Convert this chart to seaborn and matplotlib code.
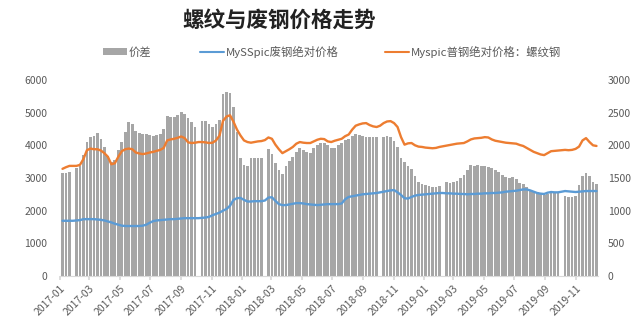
import numpy as np
import pandas as pd
import matplotlib
matplotlib.use("Agg")
import matplotlib.pyplot as plt
import matplotlib.dates as mdates
import seaborn as sns
from matplotlib.patches import Patch
from matplotlib.lines import Line2D

sns.set_theme(style="white")
plt.rcParams["font.family"] = ["Noto Sans CJK SC", "DejaVu Sans"]
plt.rcParams["axes.unicode_minus"] = False

# ---------------- data (weekly) ----------------
weeks = pd.date_range("2017-01-06", periods=154, freq="7D")

rebar = [3280, 3330, 3370, 3370, 3370, 3400, 3580, 3850, 3900, 3880,
         3880, 3840, 3760, 3650, 3420, 3450, 3650, 3820, 3880, 3900,
         3880, 3780, 3750, 3730, 3750, 3780, 3800, 3830, 3860, 3920,
         4150, 4180, 4200, 4230, 4270, 4220, 4090, 4070, 4080, 4100,
         4100, 4090, 4070, 4080, 4150, 4300, 4750, 4880, 4920, 4720,
         4480, 4300, 4150, 4100, 4080, 4100, 4120, 4130, 4160, 4240,
         4200, 4020, 3880, 3760, 3820, 3880, 3950, 4050, 4100, 4080,
         4070, 4070, 4120, 4170, 4200, 4190, 4120, 4100, 4140, 4170,
         4200, 4280, 4330, 4480, 4600, 4640, 4670, 4680, 4620, 4580,
         4560, 4600, 4680, 4730, 4740, 4680, 4560, 4250, 4020, 4060,
         4070, 4000, 3960, 3950, 3930, 3920, 3910, 3920, 3950, 3970,
         3990, 4010, 4030, 4050, 4060, 4070, 4120, 4180, 4210, 4220,
         4230, 4250, 4240, 4180, 4140, 4120, 4100, 4080, 4070, 4060,
         4050, 4010, 3980, 3920, 3860, 3800, 3760, 3720, 3700, 3760,
         3820, 3830, 3840, 3850, 3860, 3850, 3860, 3890, 3960, 4150,
         4220, 4100, 4000, 3980]

scrap = [1690, 1690, 1690, 1690, 1700, 1710, 1740, 1740, 1740, 1740,
         1730, 1720, 1700, 1670, 1640, 1600, 1570, 1540, 1530, 1530,
         1530, 1530, 1530, 1540, 1570, 1630, 1680, 1700, 1710, 1720,
         1730, 1740, 1740, 1750, 1760, 1770, 1770, 1770, 1770, 1770,
         1780, 1790, 1810, 1860, 1900, 1940, 2000, 2050, 2150, 2330,
         2380, 2390, 2330, 2280, 2280, 2290, 2290, 2290, 2310, 2400,
         2410, 2300, 2200, 2170, 2170, 2190, 2210, 2230, 2230, 2220,
         2200, 2190, 2180, 2170, 2180, 2190, 2200, 2200, 2200, 2200,
         2220, 2350, 2420, 2440, 2460, 2480, 2500, 2510, 2520, 2530,
         2540, 2560, 2580, 2600, 2620, 2630, 2560, 2480, 2380, 2370,
         2420, 2460, 2480, 2490, 2500, 2510, 2520, 2530, 2540, 2540,
         2530, 2530, 2520, 2520, 2510, 2510, 2500, 2510, 2510, 2520,
         2520, 2530, 2530, 2540, 2540, 2550, 2560, 2580, 2590, 2600,
         2610, 2630, 2650, 2650, 2620, 2580, 2540, 2520, 2510, 2550,
         2570, 2560, 2560, 2580, 2600, 2590, 2580, 2570, 2580, 2590,
         2600, 2600, 2600, 2600]

nan = np.nan
spread = [1580, 1570, 1590, nan, 1660, 1680, 1850, 2050, 2130, 2150,
          2190, 2100, 1980, 1840, 1740, 1780, 1930, 2050, 2200, 2360,
          2330, 2220, 2190, 2170, 2170, 2160, 2150, 2160, 2180, 2250,
          2450, 2440, 2430, 2470, 2510, 2480, 2420, 2350, 2280, nan,
          2370, 2370, 2320, 2280, 2330, 2380, 2780, 2820, 2800, 2590,
          2200, 1800, 1700, 1680, 1800, 1810, 1800, 1800, nan, 1950,
          1860, 1730, 1620, 1560, 1680, 1760, 1820, 1900, 1960, 1930,
          1900, 1880, 1960, 2000, 2030, 2040, 2000, 1960, 1960, 2000,
          2040, 2080, 2100, 2140, 2170, 2160, 2140, 2130, 2130, 2120,
          2130, nan, 2130, 2140, 2130, 2070, 1980, 1800, 1750, 1680,
          1640, 1530, 1440, 1410, 1390, 1380, 1360, 1360, 1370, nan,
          1440, 1430, 1440, 1460, 1500, 1540, 1620, 1700, 1690, 1700,
          1690, 1680, 1670, 1650, 1620, 1590, 1550, 1520, 1500, 1520,
          1480, 1430, 1410, 1360, 1320, 1300, 1290, 1250, 1240, 1260,
          1270, 1270, 1270, nan, 1230, 1210, 1210, 1220, 1400, 1530,
          1580, 1530, 1440, 1410]

tick_labels = ["2017-01", "2017-03", "2017-05", "2017-07", "2017-09", "2017-11",
               "2018-01", "2018-03", "2018-05", "2018-07", "2018-09", "2018-11",
               "2019-01", "2019-03", "2019-05", "2019-07", "2019-09", "2019-11"]

series_names = ["价差", "MySSpic废钢绝对价格", "Myspic普钢绝对价格：螺纹钢"]

GRAY = "#A6A6A6"
BLUE = "#5B9BD5"
ORANGE = "#ED7D31"
TXT = "#595959"

df = pd.DataFrame({"x": mdates.date2num(weeks), "rebar": rebar,
                   "scrap": scrap, "spread": spread})
bars = df.dropna(subset=["spread"])

fig = plt.figure(figsize=(6.43, 3.36), dpi=100)
ax = fig.add_axes([0.0933, 0.1786, 0.8367, 0.5834])

sns.barplot(data=bars, x="x", y="spread", native_scale=True, color=GRAY,
            saturation=1, width=0.78, errorbar=None, linewidth=0, ax=ax)

ax2 = ax.twinx()
sns.lineplot(data=df, x="x", y="rebar", color=ORANGE, lw=1.7, ax=ax2)
sns.lineplot(data=df, x="x", y="scrap", color=BLUE, lw=1.7, ax=ax2)

# axes arrangement: bars on right scale, lines on left scale
ax.yaxis.tick_right()
ax.yaxis.set_label_position("right")
ax2.yaxis.tick_left()
ax2.yaxis.set_label_position("left")

ax.set_ylim(0, 3000)
ax2.set_ylim(0, 6000)
ax.set_yticks(range(0, 3001, 500))
ax2.set_yticks(range(0, 6001, 1000))

ax.set_xlim(mdates.date2num(pd.Timestamp("2017-01-01")),
            mdates.date2num(pd.Timestamp("2019-12-16")))
ticks = [mdates.date2num(pd.Timestamp(t + "-01")) for t in tick_labels]
ax.set_xticks(ticks)
ax.set_xticklabels(tick_labels, rotation=45, ha="right", rotation_mode="anchor")

for a in (ax, ax2):
    a.set_xlabel("")
    a.set_ylabel("")
    for s in a.spines.values():
        s.set_visible(False)
ax.spines["bottom"].set_visible(True)
ax.spines["bottom"].set_color("#D9D9D9")
ax.spines["bottom"].set_linewidth(0.8)

ax.tick_params(axis="x", length=3, color="#D9D9D9", labelsize=7.5,
               labelcolor=TXT, pad=2, bottom=True)
ax.tick_params(axis="y", length=0, labelsize=7.5, labelcolor=TXT, pad=7)
ax2.tick_params(axis="y", length=0, labelsize=7.5, labelcolor=TXT, pad=9)

fig.text(0.434, 0.94, "螺纹与废钢价格走势", ha="center", va="center",
         fontsize=15.5, fontweight="bold", color="#222222")

handles = [Patch(facecolor=GRAY, edgecolor="none"),
           Line2D([], [], color=BLUE, lw=1.5),
           Line2D([], [], color=ORANGE, lw=1.5)]
anchors = [103 / 643, 200 / 643, 385 / 643]
for h, name, xa in zip(handles, series_names, anchors):
    lg = fig.legend([h], [name], loc="center left", bbox_to_anchor=(xa, 0.845),
                    frameon=False, fontsize=8.2, handlelength=2.1,
                    handleheight=0.6, handletextpad=0.15, borderpad=0,
                    borderaxespad=0, labelcolor=TXT)

fig.savefig("out.png", dpi=100, facecolor="white")
